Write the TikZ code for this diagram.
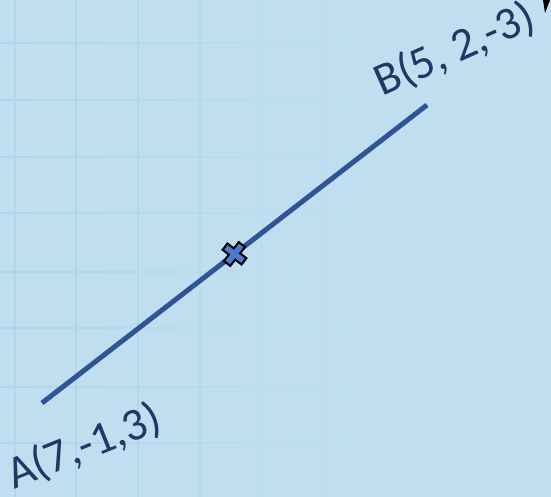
\documentclass[tikz,border=0pt]{standalone}
\usepackage{fontspec}
\setmainfont{Carlito}
\usetikzlibrary{calc,fadings}
\definecolor{bgblue}{HTML}{BFDFF1}
\definecolor{gridblue}{HTML}{B4D5E9}
\definecolor{segblue}{HTML}{2F5597}
\definecolor{markblue}{HTML}{4A7BD0}
\definecolor{lblnavy}{HTML}{1F3864}

\begin{document}
\begin{tikzpicture}[
  x=1pt, y=-1pt,
  grd/.style={draw=gridblue, line width=2.4pt},
  seg/.style={draw=segblue, line width=5pt},
  lbl/.style={text=lblnavy, font=\fontsize{46}{46}\selectfont, inner sep=0pt, anchor=base west}
]
% ---------------- background and grid ----------------
\useasboundingbox[fill=bgblue] (0,0) rectangle (551,497);
\foreach \gx/\op in {15/1,76/0.9,138/0.75,200/0.55,262/0.35,323/0.15}
  \draw[grd, opacity=\op] (\gx,0) -- (\gx,497);
\foreach \gy in {43,100,157,213,272,328,387,443}
  \draw[grd, path fading=east] (0,\gy) -- (380,\gy);
% ---------------- segment AB ----------------
\coordinate (a) at (42,403);
\coordinate (b) at (427,105);
\coordinate (m) at ($(a)!0.5!(b)$);
\draw[seg] (a) -- (b);
% midpoint mark
\begin{scope}[shift={(m)}, rotate=-38]
  \draw[fill=markblue, line width=2pt, line join=miter]
    (-4,-12) -- (4,-12) -- (4,-4) -- (12,-4) -- (12,4) -- (4,4)
    -- (4,12) -- (-4,12) -- (-4,4) -- (-12,4) -- (-12,-4) -- (-4,-4) -- cycle;
\end{scope}
% ---------------- labels ----------------
\node[lbl, rotate=22] (la) at (14,490) {A(7,-1,3)};
\node[lbl, rotate=24] (lb) at (382,97) {B(5, 2,-3)};
% corner tip
\fill (543,0) -- (550,0) -- (545,13) -- cycle;
\end{tikzpicture}
\end{document}
